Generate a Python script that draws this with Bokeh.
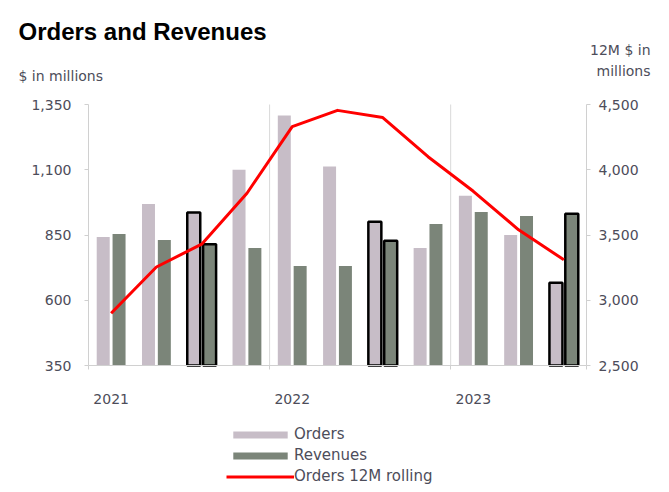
import numpy as np
from bokeh.plotting import figure
from bokeh.models import (ColumnDataSource, Range1d, LinearAxis, FixedTicker, Legend,
                          LegendItem, Label, NumeralTickFormatter)
from bokeh.embed import file_html
from bokeh.resources import INLINE

# ---- data ----
quarters = ["2021 Q1", "2021 Q2", "2021 Q3", "2021 Q4",
            "2022 Q1", "2022 Q2", "2022 Q3", "2022 Q4",
            "2023 Q1", "2023 Q2", "2023 Q3"]
orders = [842, 969, 936, 1100, 1308, 1112, 901, 800, 1000, 850, 667]
revenues = [854, 831, 815, 800, 731, 731, 828, 892, 938, 923, 931]
orders_12m = [2900, 3255, 3430, 3820, 4330, 4455, 4400, 4100, 3835, 3540, 3310]
years = ["2021", "2022", "2023"]
left_ticks = [350, 600, 850, 1100, 1350]
right_ticks = [2500, 3000, 3500, 4000, 4500]

# ---- styles / layout ----
ORDERS_COLOR = "#c7bdc7"
REV_COLOR = "#7b8579"
LINE_COLOR = "#ff0000"
AXIS_COLOR = "#d0d0d0"
GRID_COLOR = "#d9d9d9"
TEXT_COLOR = "#4d4d5a"
FONT = "DejaVu Sans"
W, H = 669, 492
PLOT_L, PLOT_R, PLOT_T, PLOT_B = 88, 586, 104, 365   # plotting area in pixels

n = len(quarters)
xc = np.arange(n) + 0.5
off, bw = 0.175, 0.287
highlight = [1.0 if q.endswith("Q3") else 0.0 for q in quarters]
year_of = [q.split()[0] for q in quarters]
year_start = [year_of.index(y) for y in years]
year_centers = [s + 0.5 for s in year_start]
boundaries = [float(s) for s in year_start] + [float(n)]

# ranges extended so that the whole canvas is the frame
xpp = n / (PLOT_R - PLOT_L)
x_range = Range1d(-PLOT_L * xpp, n + (W - PLOT_R) * xpp)
lo, hi = left_ticks[0], left_ticks[-1]
ypp = (hi - lo) / (PLOT_B - PLOT_T)
y_range = Range1d(lo - (H - PLOT_B) * ypp, hi + PLOT_T * ypp)
rlo, rhi = right_ticks[0], right_ticks[-1]
rpp = (rhi - rlo) / (PLOT_B - PLOT_T)
r_range = Range1d(rlo - (H - PLOT_B) * rpp, rhi + PLOT_T * rpp)

src = ColumnDataSource(dict(
    xo=xc - off, xr=xc + off, x=xc,
    orders=orders, revenues=revenues, roll=orders_12m, hl=highlight,
))

p = figure(width=W, height=H, output_backend="svg", toolbar_location=None,
           x_range=x_range, y_range=y_range, min_border=0,
           background_fill_color="white", border_fill_color="white")
p.outline_line_color = None
p.extra_y_ranges = {"right": r_range}
p.xgrid.grid_line_color = None
p.ygrid.grid_line_color = None

# year separators
inner = boundaries[1:-1]
p.segment(x0=inner, x1=inner, y0=[lo] * len(inner), y1=[hi] * len(inner),
          line_color=GRID_COLOR, line_width=1)

r_orders = p.vbar(x="xo", top="orders", bottom=lo, width=bw, source=src,
                  fill_color=ORDERS_COLOR, line_color="black", line_width=2.5,
                  line_alpha="hl")
r_rev = p.vbar(x="xr", top="revenues", bottom=lo, width=bw, source=src,
               fill_color=REV_COLOR, line_color="black", line_width=2.5,
               line_alpha="hl")
r_line = p.line(x="x", y="roll", source=src, y_range_name="right",
                line_color=LINE_COLOR, line_width=3, line_join="round")

# axes, drawn at fixed places inside the canvas
ya = p.yaxis[0]
ya.ticker = FixedTicker(ticks=left_ticks)
ya.formatter = NumeralTickFormatter(format="0,0")
ya.fixed_location = 0
ya.bounds = (lo, hi)
yr = LinearAxis(y_range_name="right", ticker=FixedTicker(ticks=right_ticks),
                formatter=NumeralTickFormatter(format="0,0"))
yr.fixed_location = n
yr.bounds = (rlo, rhi)
p.add_layout(yr, "right")
for ax in (ya, yr):
    ax.axis_line_color = AXIS_COLOR
    ax.major_tick_line_color = AXIS_COLOR
    ax.major_tick_out = 4
    ax.major_tick_in = 0
    ax.minor_tick_line_color = None
    ax.major_label_text_font = FONT
    ax.major_label_text_font_size = "14px"
    ax.major_label_text_color = TEXT_COLOR
ya.major_label_standoff = 13
yr.major_label_standoff = 8

xa = p.xaxis[0]
xa.fixed_location = lo
xa.bounds = (0, n)
xa.ticker = FixedTicker(ticks=year_centers, minor_ticks=boundaries)
xa.major_label_overrides = {c: y for c, y in zip(year_centers, years)}
xa.axis_line_color = AXIS_COLOR
xa.major_tick_line_color = None
xa.major_tick_out = 0
xa.major_tick_in = 0
xa.minor_tick_line_color = AXIS_COLOR
xa.minor_tick_out = 4
xa.minor_tick_in = 0
xa.major_label_standoff = 24
xa.major_label_text_font = FONT
xa.major_label_text_font_size = "14px"
xa.major_label_text_color = TEXT_COLOR

legend = Legend(items=[LegendItem(label="Orders", renderers=[r_orders]),
                       LegendItem(label="Revenues", renderers=[r_rev]),
                       LegendItem(label="Orders 12M rolling", renderers=[r_line])],
                location=(226, 7), orientation="vertical",
                glyph_width=68, glyph_height=9, label_standoff=0,
                spacing=3, padding=0, margin=0, border_line_color=None,
                background_fill_alpha=0, label_text_font=FONT,
                label_text_font_size="15px", label_text_color=TEXT_COLOR)
p.add_layout(legend, "center")

# titles and unit notes (screen units from the bottom-left corner)
p.add_layout(Label(x=18, y=H - 31, x_units="screen", y_units="screen",
                   text="Orders and Revenues", text_font="Liberation Sans",
                   text_font_style="bold", text_font_size="24px",
                   text_color="black", text_baseline="alphabetic"))
p.add_layout(Label(x=18, y=H - 75, x_units="screen", y_units="screen",
                   text="$ in millions", text_font=FONT, text_font_size="14px",
                   text_color=TEXT_COLOR, text_baseline="alphabetic"))
p.add_layout(Label(x=650, y=H - 49, x_units="screen", y_units="screen",
                   text="12M $ in", text_font=FONT, text_font_size="14px",
                   text_color=TEXT_COLOR, text_baseline="alphabetic", text_align="right"))
p.add_layout(Label(x=650, y=H - 70, x_units="screen", y_units="screen",
                   text="millions", text_font=FONT, text_font_size="14px",
                   text_color=TEXT_COLOR, text_baseline="alphabetic", text_align="right"))

open("out.html", "w").write(file_html(p, INLINE))
